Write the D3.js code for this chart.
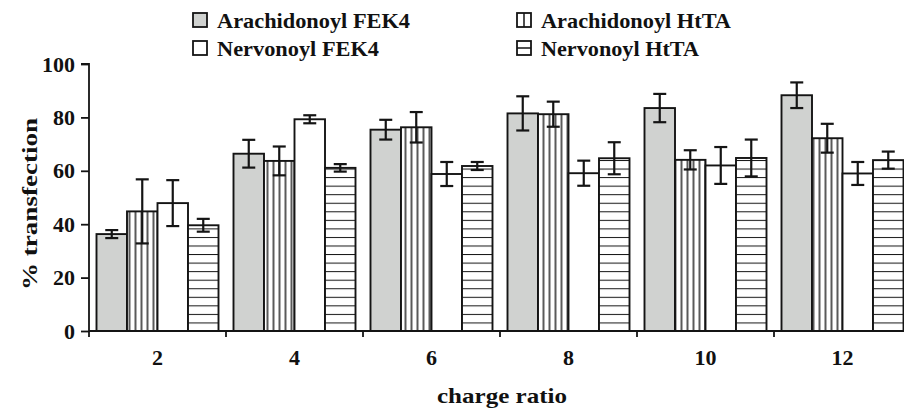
<!DOCTYPE html>
<html>
<head>
<meta charset="utf-8">
<script src="https://cdn.jsdelivr.net/npm/d3@7"></script>
<style>
  html, body { margin: 0; padding: 0; background: #fff; }
  svg { display: block; }
  text { font-family: "Liberation Serif", "Times New Roman", serif; font-weight: bold; fill: #111; }
</style>
</head>
<body>
<svg id="chart" width="904" height="409"></svg>
<script>
const categories = ["2", "4", "6", "8", "10", "12"];
const seriesNames = ["Arachidonoyl FEK4", "Arachidonoyl HtTA", "Nervonoyl FEK4", "Nervonoyl HtTA"];
const arachFEK4 = [36.3, 66.4, 75.4, 81.5, 83.5, 88.3];
const arachFEK4Err = [1.5, 5.2, 3.7, 6.4, 5.3, 4.8];
const arachHtTA = [44.8, 63.7, 76.3, 81.2, 64.1, 72.2];
const arachHtTAErr = [12, 5.4, 5.7, 4.7, 3.6, 5.4];
const nervFEK4 = [47.9, 79.3, 58.8, 59.1, 62, 59];
const nervFEK4Err = [8.6, 1.5, 4.5, 4.7, 6.9, 4.3];
const nervHtTA = [39.6, 61.1, 61.8, 64.7, 64.8, 64];
const nervHtTAErr = [2.4, 1.4, 1.5, 6, 6.9, 3.2];
const yTicks = [0, 20, 40, 60, 80, 100];

const seriesValues = [arachFEK4, arachHtTA, nervFEK4, nervHtTA];
const seriesErrors = [arachFEK4Err, arachHtTAErr, nervFEK4Err, nervHtTAErr];
const styles = ["gray", "vert", "white", "horiz"];
const legendWidths = [193, 190, 162, 158];

const svg = d3.select("#chart");
const W = 904, H = 409;
const left = 89, groupW = 137;
const ink = "#141414";
const x = d3.scaleBand().domain(categories).range([left, left + groupW * categories.length]).padding(0);
const xi = d3.scaleBand().domain(seriesNames).range([7.5, groupW - 7.5]).padding(0);
const y = d3.scaleLinear().domain([0, 100]).range([331, 64]);

const defs = svg.append("defs");
const vp = defs.append("pattern").attr("id", "vert").attr("patternUnits", "userSpaceOnUse")
  .attr("width", 6).attr("height", 10).attr("x", 0.5);
vp.append("rect").attr("width", 6).attr("height", 10).attr("fill", "#fff");
vp.append("line").attr("x1", 3).attr("x2", 3).attr("y1", 0).attr("y2", 10).attr("stroke", ink).attr("stroke-width", 1.4);
const hp = defs.append("pattern").attr("id", "horiz").attr("patternUnits", "userSpaceOnUse")
  .attr("width", 10).attr("height", 8.55).attr("y", y(0) - 8.55 * 40);
hp.append("rect").attr("width", 10).attr("height", 8.55).attr("fill", "#fff");
hp.append("line").attr("x1", 0).attr("x2", 10).attr("y1", 0.2).attr("y2", 0.2).attr("stroke", ink).attr("stroke-width", 1.6);

function fillFor(s) {
  if (s === "gray") return "#d0d2d0";
  if (s === "white") return "#fff";
  return "url(#" + s + ")";
}

const data = [];
categories.forEach((c, ci) => {
  seriesNames.forEach((s, si) => {
    data.push({ c, s, si, v: seriesValues[si][ci], e: seriesErrors[si][ci] });
  });
});

svg.append("g").selectAll("rect").data(data).join("rect")
  .attr("x", d => x(d.c) + xi(d.s))
  .attr("y", d => y(d.v))
  .attr("width", xi.bandwidth())
  .attr("height", d => y(0) - y(d.v))
  .attr("fill", d => fillFor(styles[d.si]))
  .attr("stroke", ink)
  .attr("stroke-width", 1.9);

const eb = svg.append("g").attr("stroke", ink).attr("stroke-width", 2.2);
const cap = 6.5;
data.forEach(d => {
  const cx = x(d.c) + xi(d.s) + xi.bandwidth() / 2;
  eb.append("line").attr("x1", cx).attr("x2", cx).attr("y1", y(d.v + d.e)).attr("y2", y(d.v - d.e));
  eb.append("line").attr("x1", cx - cap).attr("x2", cx + cap).attr("y1", y(d.v + d.e)).attr("y2", y(d.v + d.e));
  eb.append("line").attr("x1", cx - cap).attr("x2", cx + cap).attr("y1", y(d.v - d.e)).attr("y2", y(d.v - d.e));
});

const yAxis = svg.append("g").attr("transform", `translate(${left},0)`)
  .call(d3.axisLeft(y).tickValues(yTicks).tickSize(8).tickPadding(6));
yAxis.select(".domain").attr("stroke", ink).attr("stroke-width", 1.8).attr("d", `M-8,${y(100)}H0V${y(0)}`);
yAxis.selectAll(".tick line").attr("stroke", ink).attr("stroke-width", 1.8);
yAxis.selectAll(".tick text").attr("font-size", 22).attr("font-family", "Liberation Serif").attr("font-weight", "bold").attr("fill", "#111");

const xAxisG = svg.append("g");
xAxisG.append("line").attr("x1", left).attr("x2", W).attr("y1", y(0)).attr("y2", y(0))
  .attr("stroke", ink).attr("stroke-width", 1.8);
xAxisG.selectAll("line.tk").data(categories).join("line").attr("class", "tk")
  .attr("x1", d => x(d)).attr("x2", d => x(d))
  .attr("y1", y(0)).attr("y2", y(0) + 6)
  .attr("stroke", ink).attr("stroke-width", 1.8);
xAxisG.selectAll("text").data(categories).join("text")
  .attr("x", d => x(d) + x.bandwidth() / 2)
  .attr("y", 365)
  .attr("text-anchor", "middle")
  .attr("font-size", 22)
  .text(d => d);

svg.append("text").attr("x", 437).attr("y", 403).attr("font-size", 22)
  .attr("textLength", 130).attr("lengthAdjust", "spacingAndGlyphs").text("charge ratio");
svg.append("text").attr("transform", `translate(37,290) rotate(-90)`)
  .attr("font-size", 22).attr("textLength", 172).attr("lengthAdjust", "spacingAndGlyphs").text("% transfection");

const legendPos = [
  { sx: 193, sy: 13 }, { sx: 517, sy: 13 },
  { sx: 193, sy: 41 }, { sx: 517, sy: 41 }
];
const lg = svg.append("g");
seriesNames.forEach((name, si) => {
  const p = legendPos[si];
  const st = styles[si];
  lg.append("rect").attr("x", p.sx).attr("y", p.sy).attr("width", 14).attr("height", 14)
    .attr("fill", st === "gray" ? "#d0d2d0" : "#fff").attr("stroke", ink).attr("stroke-width", 1.8);
  if (st === "vert") {
    lg.append("line").attr("x1", p.sx + 7).attr("x2", p.sx + 7).attr("y1", p.sy).attr("y2", p.sy + 14).attr("stroke", ink).attr("stroke-width", 1.5);
  }
  if (st === "horiz") {
    lg.append("line").attr("x1", p.sx).attr("x2", p.sx + 14).attr("y1", p.sy + 7).attr("y2", p.sy + 7).attr("stroke", ink).attr("stroke-width", 1.5);
  }
  lg.append("text").attr("x", p.sx + 24).attr("y", p.sy + 15).attr("font-size", 22)
    .attr("textLength", legendWidths[si]).attr("lengthAdjust", "spacingAndGlyphs").text(name);
});
</script>
</body>
</html>
